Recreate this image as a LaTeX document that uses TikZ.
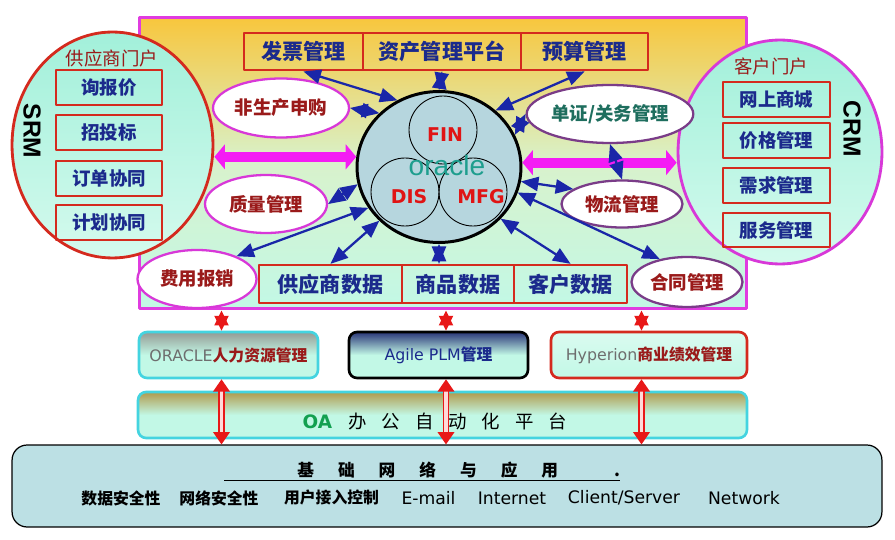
\documentclass[tikz,border=0pt]{standalone}
\usepackage{fontspec}
\setmainfont{Noto Sans CJK SC}
\newfontfamily\lat{DejaVu Sans}
\newfontfamily\arl{Liberation Sans}
\usepackage{tikz}
\usetikzlibrary{arrows,arrows.meta,shapes.geometric}
\definecolor{navy}{HTML}{1B2A8C}
\definecolor{darkred}{HTML}{9A1A1A}
\definecolor{boxred}{HTML}{D42A1E}
\definecolor{framemag}{HTML}{E03CE0}
\definecolor{bubmag}{HTML}{D838D8}
\definecolor{bubpur}{HTML}{7A3C88}
\definecolor{arrblue}{HTML}{1A26A8}
\definecolor{bigmag}{HTML}{F41CF4}
\definecolor{arrred}{HTML}{E81818}
\definecolor{cyanb}{HTML}{44D4E0}
\definecolor{mint}{HTML}{C2F8E6}
\definecolor{aqua}{HTML}{A2F0DA}
\definecolor{orcfill}{HTML}{B6D6DE}
\definecolor{oracleteal}{HTML}{1E9E8E}
\definecolor{finred}{HTML}{E01414}
\definecolor{oagreen}{HTML}{12A050}
\definecolor{basefill}{HTML}{BCE0E4}
\definecolor{frametop}{HTML}{F8C63C}
\definecolor{framemid}{HTML}{D8F2CC}
\definecolor{dzteal}{HTML}{1E6E5E}
\definecolor{greytxt}{HTML}{6E6E6E}
\definecolor{oatop}{HTML}{B09A4C}
\definecolor{hrtop}{HTML}{949A94}
\definecolor{plmtop}{HTML}{2A3678}

\begin{document}
\begin{tikzpicture}[line cap=round,line join=round,>=triangle 45,x=0.02cm,y=-0.02cm,
  framebox/.style={draw=framemag,line width=1.7pt,inner sep=0pt,top color=frametop,bottom color=mint,middle color=framemid},
  portal/.style={ellipse,line width=1.6pt,inner sep=0pt,top color=aqua,bottom color=mint!70!white},
  portaltitle/.style={text=darkred,font=\fontsize{10.5}{12}\selectfont},
  sidelabel/.style={rotate=-90,font=\arl\bfseries\fontsize{14}{16}\selectfont},
  sidebox/.style={draw=boxred,line width=1.4pt,inner sep=0pt,minimum height=0.69cm,text=navy,font=\bfseries\fontsize{10.5}{12}\selectfont},
  topbox/.style={draw=boxred,line width=1.4pt,inner sep=0pt,minimum height=0.75cm,text=navy,font=\bfseries\fontsize{12}{14}\selectfont},
  bubble/.style={ellipse,draw=bubmag,fill=white,line width=1.3pt,inner sep=0pt,text=darkred,font=\bfseries\fontsize{10.5}{12}\selectfont},
  core/.style={circle,draw=black,line width=0.5pt,minimum size=1.36cm,inner sep=0pt},
  corelabel/.style={text=finred,font=\lat\bfseries\fontsize{10.8}{12}\selectfont},
  bluearr/.style={<->,draw=arrblue,line width=1.3pt},
  bigarr/.style={draw=bigmag,line width=5.7pt,line cap=butt,{Triangle[width=14pt,length=6pt]}-{Triangle[width=14pt,length=6pt]}},
  redlink/.style={draw=arrred,line width=1pt,{Triangle[width=8pt,length=8.5pt]}-{Triangle[width=8pt,length=8.5pt]}},
  redpipe/.style={draw=arrred,line width=0.8pt,double=white!85!red,double distance=2pt,{Triangle[width=9.5pt,length=7pt]}-{Triangle[width=9.5pt,length=7pt]}},
  sysbox/.style={rounded corners=0.16cm,line width=1.5pt,inner sep=0pt,minimum height=0.92cm,font=\fontsize{9}{11}\selectfont},
  item/.style={font=\bfseries\fontsize{9}{11}\selectfont},
  netitem/.style={font=\lat\fontsize{9.8}{11}\selectfont}]
\useasboundingbox (0,0) rectangle (895,540);

\node[framebox,minimum width=12.16cm,minimum height=5.84cm] (frame) at (443,163) {};

\node[portal,draw=boxred,minimum width=4.02cm,minimum height=4.52cm] (srm) at (112.5,145) {};
\node[portaltitle] (srmt) at (112,58) {供应商门户};
\node[sidebox,minimum width=2.12cm] (xbj) at (109,87.5) {询报价};
\node[sidebox,minimum width=2.12cm] (ztb) at (109,132.5) {招投标};
\node[sidebox,minimum width=2.12cm] (ddxt) at (109,178.5) {订单协同};
\node[sidebox,minimum width=2.12cm] (jhxt) at (109,222.5) {计划协同};
\node[sidelabel] (srml) at (32,131) {SRM};

\node[portal,draw=bubmag,minimum width=4.08cm,minimum height=4.48cm] (crm) at (780,152) {};
\node[portaltitle] (crmt) at (771,66) {客户门户};
\node[sidebox,minimum width=2.14cm] (wssc) at (776.5,99.5) {网上商城};
\node[sidebox,minimum width=2.14cm] (jggl) at (776.5,140.5) {价格管理};
\node[sidebox,minimum width=2.14cm] (xqgl) at (776.5,185.5) {需求管理};
\node[sidebox,minimum width=2.14cm] (fwgl) at (776.5,230) {服务管理};
\node[sidelabel] (crml) at (852,129) {CRM};

\node[topbox,minimum width=2.38cm] (fp) at (303.5,51.5) {发票管理};
\node[topbox,minimum width=3.16cm] (zc) at (442,51.5) {资产管理平台};
\node[topbox,minimum width=2.54cm] (ys) at (584.5,51.5) {预算管理};

\node[topbox,minimum width=2.86cm,minimum height=0.76cm] (gys) at (330.5,284) {供应商数据};
\node[topbox,minimum width=2.24cm,minimum height=0.76cm] (sp) at (458,284) {商品数据};
\node[topbox,minimum width=2.26cm,minimum height=0.76cm] (kh) at (570.5,284) {客户数据};

\node[ellipse,draw=black,line width=1.7pt,fill=orcfill,minimum width=3.28cm,minimum height=3.02cm,inner sep=0pt] (orc) at (439,167) {};
\node[core] (finc) at (443,130) {};
\node[core] (disc) at (405,192) {};
\node[core] (mfgc) at (473,192) {};
\node[corelabel] (fin) at (445,135) {FIN};
\node[corelabel] (dis) at (409,197) {DIS};
\node[corelabel] (mfg) at (481,197) {MFG};
\node[text=oracleteal,font=\arl\fontsize{16}{17}\selectfont] (ora) at (447,165) {oracle};

\node[bubble,minimum width=2.72cm,minimum height=1.18cm] (fsc) at (281,108) {非生产申购};
\node[bubble,minimum width=2.44cm,minimum height=1.16cm] (zl) at (266,204) {质量管理};
\node[bubble,minimum width=2.38cm,minimum height=1.16cm] (fy) at (197,279) {费用报销};
\node[bubble,draw=bubpur,text=dzteal,minimum width=2.68cm,minimum height=1.16cm] (dz) at (610,114) {单证/关务管理};
\node[bubble,draw=bubpur,minimum width=2.42cm,minimum height=0.94cm] (wl) at (622,204) {物流管理};
\node[bubble,draw=bubpur,minimum width=2.22cm,minimum height=1.0cm] (ht) at (687,282) {合同管理};

\draw[bigarr] (orc.173) -- (orc.173 -| srm.east);
\draw[bigarr] (orc.3) -- (orc.3 -| crm.west);

\draw[bluearr] (fp.south) -- (orc.122);
\draw[bluearr] (fsc.east) -- (orc.138);
\draw[bluearr] (zc.south) -- (orc.north);
\draw[bluearr] (ys.south) -- (orc.45);
\draw[bluearr] (dz.west) -- (orc.23);
\draw[bluearr] (dz.south) -- (wl.north);
\draw[bluearr] (orc.-10) -- (wl.163);
\draw[bluearr] (orc.-18) -- (ht.140);
\draw[bluearr] (orc.-40) -- (kh.north);
\draw[bluearr] (orc.south) -- (orc.south |- sp.north);
\draw[bluearr] (orc.222) -- (gys.north);
\draw[bluearr] (orc.210) -- (fy.30);
\draw[bluearr] (orc.192) -- (zl.east);

\node[sysbox,draw=cyanb,top color=hrtop,bottom color=mint,middle color=mint,minimum width=3.58cm] (hr) at (228.5,355) {{\lat\color{greytxt}ORACLE}{\bfseries\color{darkred}人力资源管理}};
\node[sysbox,draw=black,top color=plmtop,bottom color=mint,middle color=mint,minimum width=3.58cm,text=navy] (plm) at (438.5,355) {{\lat Agile PLM}\textbf{管理}};
\node[sysbox,draw=boxred,top color=mint!60!white,bottom color=mint,minimum width=3.92cm] (hyp) at (649,355) {{\lat\color{greytxt}Hyperion}{\bfseries\color{darkred}商业绩效管理}};

\node[sysbox,draw=cyanb,top color=oatop,bottom color=mint,middle color=mint,minimum width=12.18cm] (oa) at (442.5,415) {};
\node[font=\fontsize{10.5}{12}\selectfont] (oat) at (435,421) {{\lat\bfseries\color{oagreen}OA}\hspace{0.32cm}办\hspace{0.3cm}公\hspace{0.3cm}自\hspace{0.3cm}动\hspace{0.3cm}化\hspace{0.3cm}平\hspace{0.3cm}台};

\node[draw=black,line width=0.7pt,rounded corners=0.3cm,fill=basefill,minimum width=17.4cm,minimum height=1.64cm,inner sep=0pt] (base) at (447,486) {};
\node[anchor=base west,inner sep=0pt,font=\bfseries\fontsize{9.5}{11}\selectfont] (jc) at (224,476) {\underline{\hspace{1.46cm}基\hspace{0.48cm}础\hspace{0.48cm}网\hspace{0.48cm}络\hspace{0.48cm}与\hspace{0.48cm}应\hspace{0.48cm}用\hspace{1.12cm}.}};
\node[item] (sjaq) at (121,498) {数据安全性};
\node[item] (wlaq) at (219,498) {网络安全性};
\node[item] (yhjr) at (331.5,498) {用户接入控制};
\node[netitem] (mail) at (428.5,498) {E-mail};
\node[netitem] (inet) at (512,498) {Internet};
\node[netitem] (cs) at (624,498) {Client/Server};
\node[netitem] (nw) at (744,498) {Network};

\draw[redlink] ([xshift=-0.14cm]hr.north) -- ([xshift=-0.14cm]hr.north |- frame.south);
\draw[redlink] ([xshift=0.15cm]plm.north) -- ([xshift=0.15cm]plm.north |- frame.south);
\draw[redlink] ([xshift=-0.15cm]hyp.north) -- ([xshift=-0.15cm]hyp.north |- frame.south);
\draw[redpipe] ([xshift=-0.14cm]hr.south) -- ([xshift=-0.14cm]hr.south |- base.north);
\draw[redpipe] ([xshift=0.15cm]plm.south) -- ([xshift=0.15cm]plm.south |- base.north);
\draw[redpipe] ([xshift=-0.15cm]hyp.south) -- ([xshift=-0.15cm]hyp.south |- base.north);
\end{tikzpicture}
\end{document}
